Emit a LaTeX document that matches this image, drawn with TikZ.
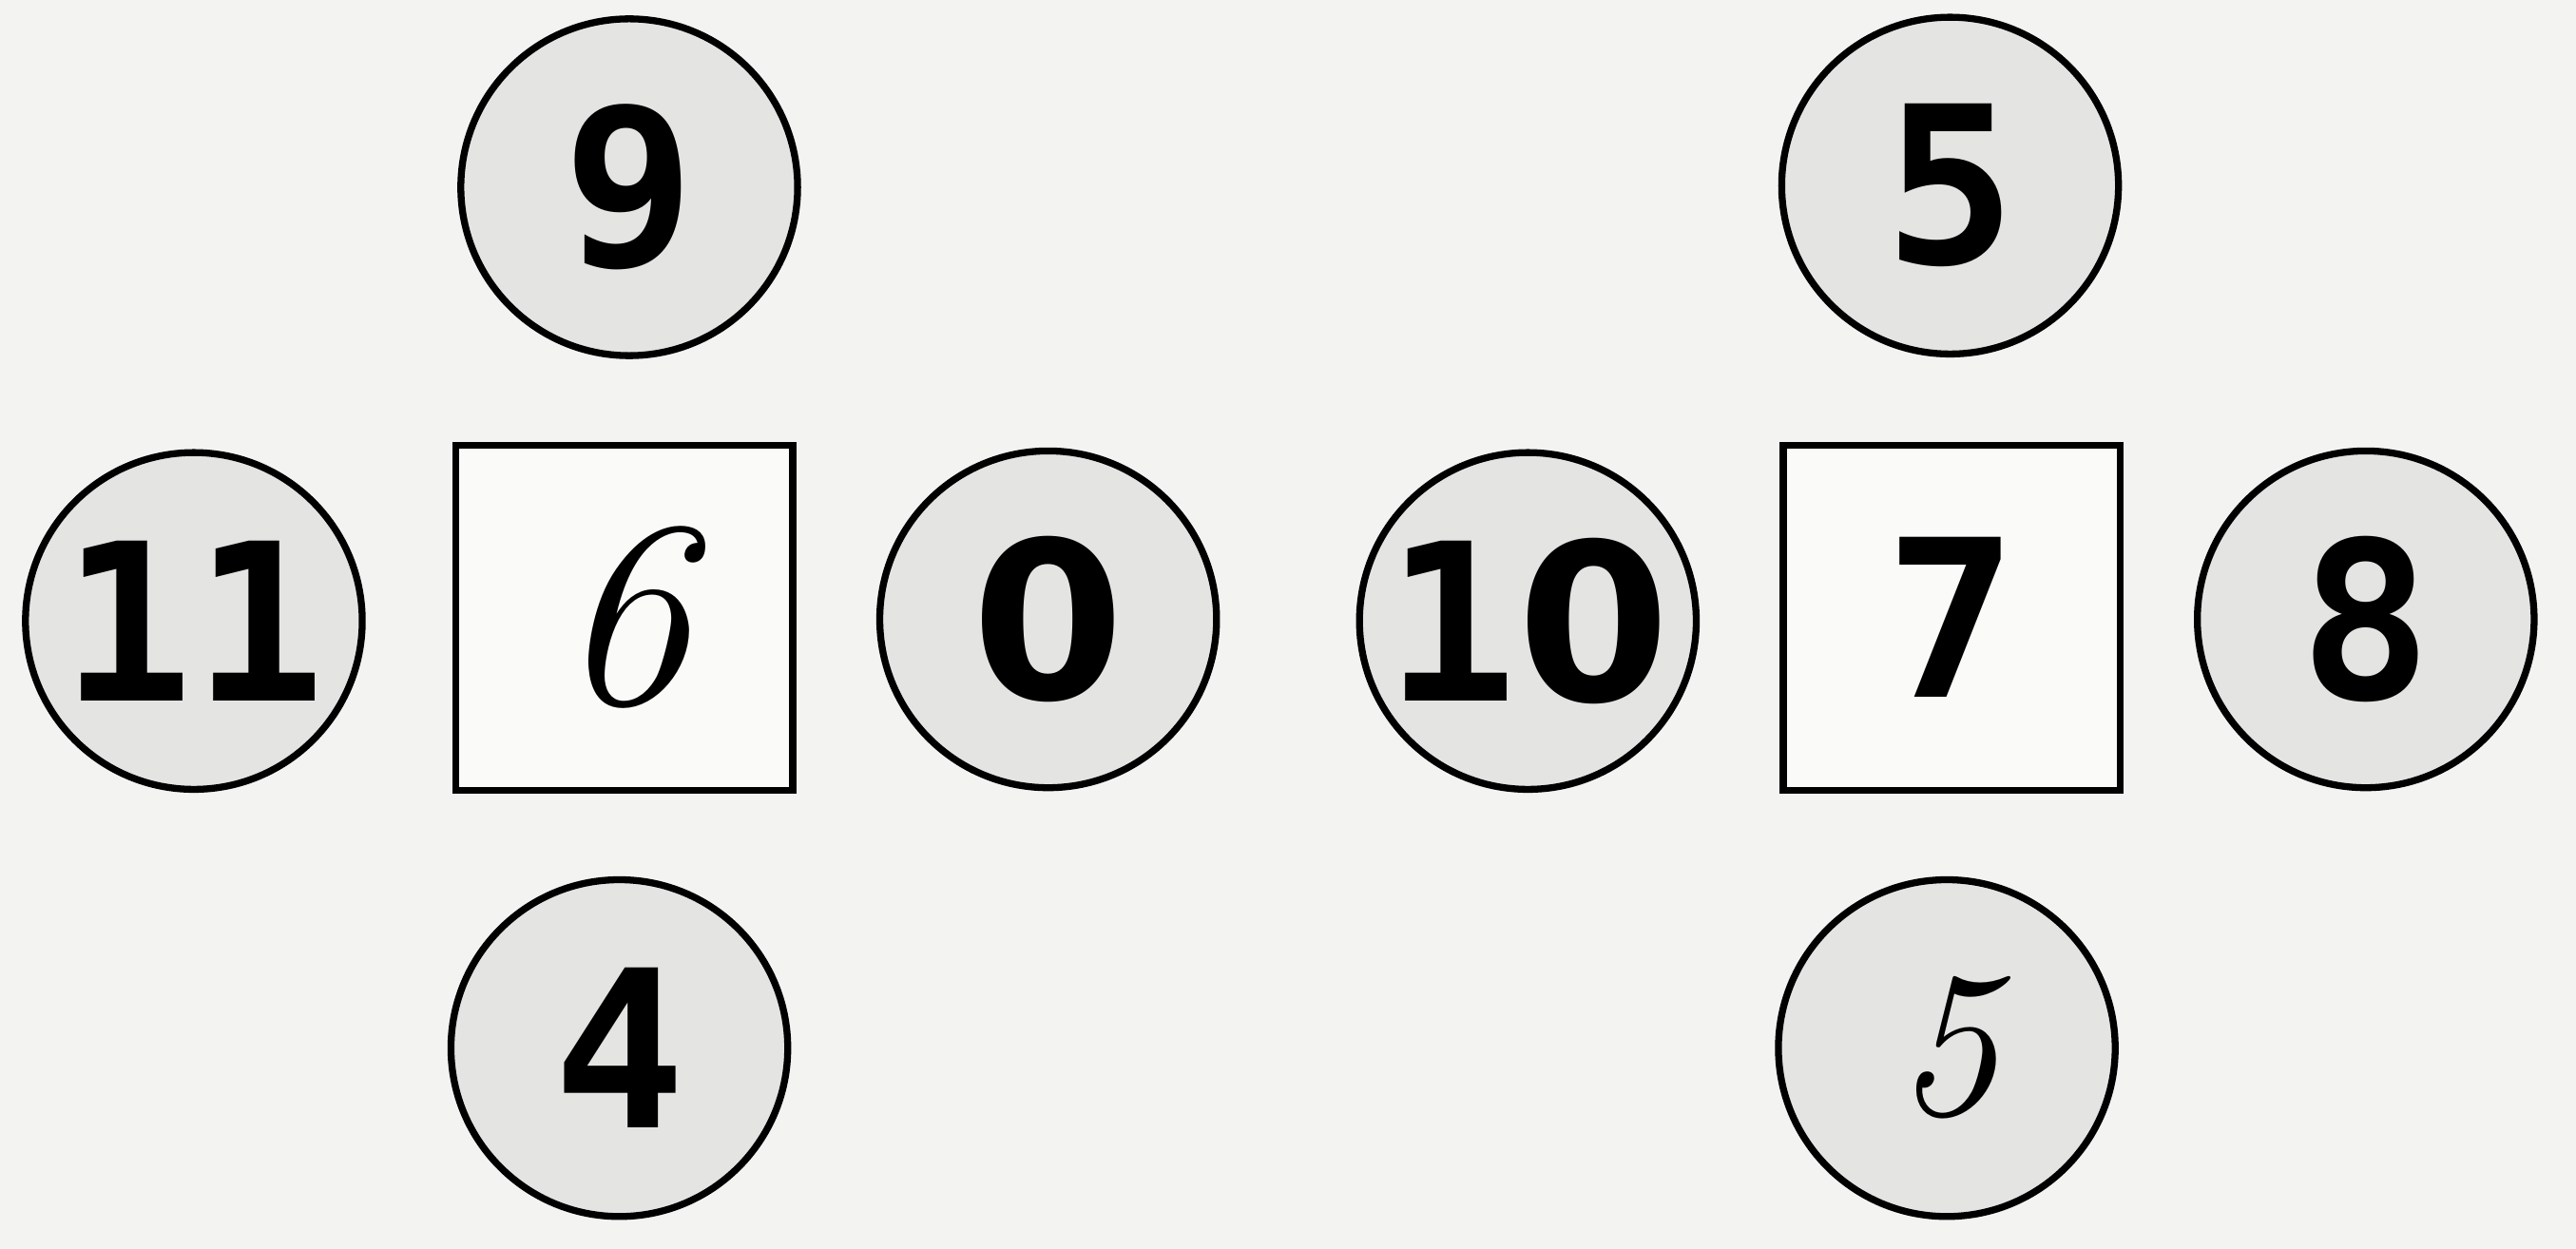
\documentclass[tikz,border=0pt]{standalone}
\usepackage{fontspec}
\newfontfamily\tokenfont{DejaVu Sans Mono}
\newfontfamily\zerofont{DejaVu Sans}
\newfontfamily\handfont{Latin Modern Roman}
\usepackage{tikz}
\usetikzlibrary{positioning}

\definecolor{paper}{HTML}{F3F3F1}
\definecolor{token}{HTML}{E4E4E2}
\newcommand{\plainzero}{{\zerofont 0}}

\begin{document}
\begin{tikzpicture}[
  num/.style={circle, draw, line width=1.2pt, fill=token, inner sep=0pt,
  minimum size=2.05cm, font=\tokenfont\bfseries\fontsize{38}{44}\selectfont},
  slot/.style={rectangle, draw, line width=1.2pt, fill=white!60!paper, inner sep=0pt,
  minimum width=2.05cm, minimum height=2.1cm},
  hand/.style={font=\handfont\itshape\fontsize{46}{50}\selectfont}]
\useasboundingbox (0,0) rectangle (15.68,7.60);
\fill[paper] (0,0) rectangle (15.68,7.60);
% left cross
\node[slot, hand] (left) at (3.80,3.84) {6};
\node[num] (lefttop) at (3.83,6.46) {9};
\node[num] (leftl) at (1.18,3.82) {11};
\node[num] (leftr) at (6.38,3.83) {\plainzero};
\node[num] (leftbot) at (3.77,1.22) {4};
% right cross
\node[slot, font=\tokenfont\bfseries\fontsize{38}{44}\selectfont] (right) at (11.88,3.84) {7};
\node[num] (righttop) at (11.87,6.47) {5};
\node[num] (rightl) at (9.30,3.82) {1\plainzero};
\node[num] (rightr) at (14.40,3.83) {8};
\node[num, hand, font=\handfont\itshape\fontsize{36}{40}\selectfont] (rightbot) at (11.85,1.22) {5};
\end{tikzpicture}
\end{document}
